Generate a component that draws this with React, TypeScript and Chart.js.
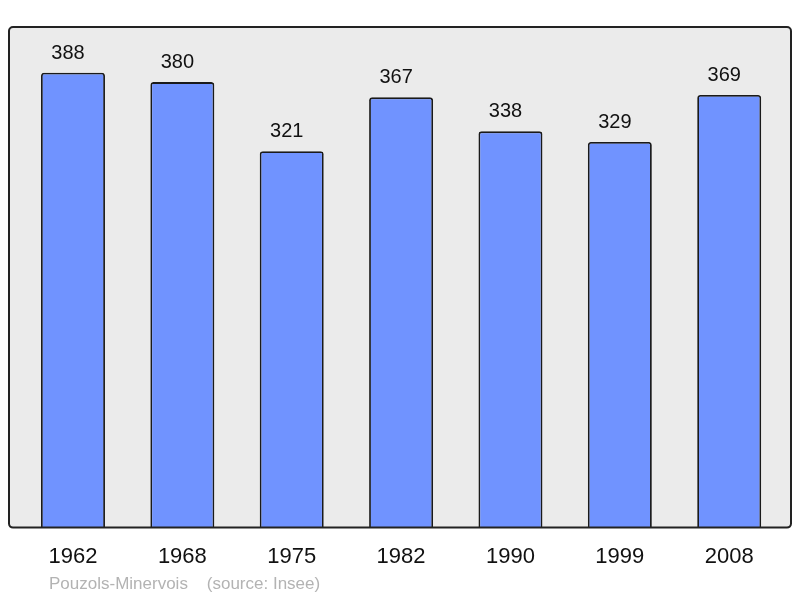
import React, { useEffect, useRef } from "react";
import { Chart, registerables } from "chart.js";

Chart.register(...registerables);

const years = ["1962", "1968", "1975", "1982", "1990", "1999", "2008"];
const population = [388, 380, 321, 367, 338, 329, 369];
const footerText = "Pouzols-Minervois    (source: Insee)";

const FONT = "'Liberation Sans', Arial, sans-serif";

const plotFrame = {
  id: "plotFrame",
  beforeDatasetsDraw(chart: any) {
    const { ctx, chartArea: a } = chart;
    ctx.save();
    ctx.beginPath();
    ctx.roundRect(a.left, a.top, a.right - a.left, a.bottom - a.top, 4);
    ctx.fillStyle = "#ebebeb";
    ctx.fill();
    ctx.restore();
  },
  afterDatasetsDraw(chart: any) {
    const { ctx, chartArea: a } = chart;
    ctx.save();
    const meta = chart.getDatasetMeta(0);
    ctx.font = `20px ${FONT}`;
    ctx.fillStyle = "#111";
    ctx.textAlign = "center";
    ctx.textBaseline = "alphabetic";
    meta.data.forEach((bar: any, i: number) => {
      ctx.fillText(String(population[i]), bar.x - 5, bar.y - 14);
    });
    ctx.beginPath();
    ctx.roundRect(a.left, a.top, a.right - a.left, a.bottom - a.top, 4);
    ctx.lineWidth = 2;
    ctx.strokeStyle = "#222";
    ctx.stroke();
    ctx.restore();
  },
};

export default function App() {
  const ref = useRef<HTMLCanvasElement | null>(null);

  useEffect(() => {
    if (!ref.current) return;
    const chart = new Chart(ref.current, {
      type: "bar",
      data: {
        datasets: [
          {
            data: population.map((v, i) => ({ x: i, y: v })),
            backgroundColor: "#7093ff",
            borderColor: "#1a1a1a",
            borderWidth: 1.8,
            borderRadius: 3,
            borderSkipped: "start",
            categoryPercentage: 1,
            barPercentage: 0.585,
          },
        ],
      },
      options: {
        animation: false,
        responsive: true,
        maintainAspectRatio: false,
        layout: { padding: { left: 9, right: 9, top: 27, bottom: 12 } },
        plugins: {
          legend: { display: false },
          tooltip: { enabled: false },
        },
        scales: {
          x: {
            type: "linear",
            offset: false,
            min: -0.585,
            max: 6.565,
            grid: { display: false, drawTicks: false, offset: false },
            border: { display: false },
            afterBuildTicks: (scale: any) => {
              scale.ticks = years.map((_, i) => ({ value: i }));
            },
            ticks: {
              padding: 16,
              color: "#111",
              font: { family: FONT, size: 22 },
              maxRotation: 0,
              autoSkip: false,
              callback: (value: any) => years[value as number] ?? "",
            },
          },
          y: {
            display: false,
            min: 0,
            max: 427,
          },
        },
      },
      plugins: [plotFrame],
    });
    return () => chart.destroy();
  }, []);

  return (
    <div style={{ position: "fixed", left: 0, top: 0, width: 800, height: 598, background: "#fff" }}>
      <canvas ref={ref} />
      <span
        style={{
          position: "absolute",
          left: 49,
          top: 574,
          fontFamily: FONT,
          fontSize: 17,
          color: "#b3b3b3",
          whiteSpace: "pre",
          lineHeight: "20px",
        }}
      >
        {footerText}
      </span>
    </div>
  );
}
